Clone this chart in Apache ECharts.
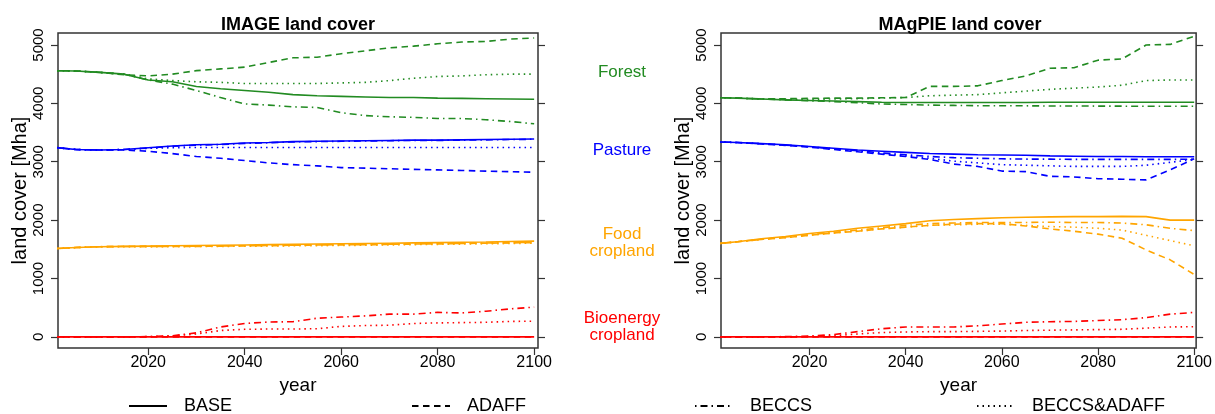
<!DOCTYPE html>
<html>
<head>
<meta charset="utf-8">
<script src="https://cdn.jsdelivr.net/npm/echarts@6/dist/echarts.min.js"></script>
<style>
  html, body { margin: 0; padding: 0; background: #fff; }
  #chart { width: 1215px; height: 414px; }
</style>
</head>
<body>
<div id="chart"></div>
<script>
// Model years (5-year steps)
const years = [2000, 2005, 2010, 2015, 2020, 2025, 2030, 2035, 2040, 2045, 2050,
               2055, 2060, 2065, 2070, 2075, 2080, 2085, 2090, 2095, 2100];

const xTicks = [2020, 2040, 2060, 2080, 2100];
const yTicks = [0, 1000, 2000, 3000, 4000, 5000];

const scenarios = ['BASE', 'ADAFF', 'BECCS', 'BECCS&ADAFF'];
const landTypes = ['Forest', 'Pasture', 'Food cropland', 'Bioenergy cropland'];
const panelTitles = ['IMAGE land cover', 'MAgPIE land cover'];

// ---- IMAGE (Mha) ----
const imgForestBase  = [4560,4555,4530,4500,4400,4370,4290,4250,4220,4190,4150,4130,4120,4110,4100,4100,4090,4085,4080,4075,4070];
const imgForestAdaff = [4560,4555,4530,4490,4470,4500,4560,4590,4620,4700,4780,4790,4850,4900,4950,4980,5020,5050,5060,5100,5120];
const imgForestBeccs = [4560,4555,4530,4500,4400,4330,4220,4100,3990,3970,3940,3930,3840,3790,3770,3760,3740,3740,3720,3690,3650];
const imgForestBa    = [4560,4555,4530,4500,4420,4390,4370,4360,4340,4340,4340,4340,4350,4360,4390,4430,4460,4470,4490,4500,4500];

const imgPastureBase  = [3250,3210,3200,3210,3240,3270,3290,3300,3320,3330,3345,3350,3355,3360,3365,3370,3370,3375,3380,3385,3390];
const imgPastureAdaff = [3250,3210,3200,3200,3180,3140,3090,3060,3020,2980,2950,2930,2900,2890,2880,2870,2860,2850,2840,2830,2820];
const imgPastureBeccs = [3250,3210,3200,3210,3235,3265,3285,3295,3315,3325,3340,3345,3350,3355,3360,3365,3365,3370,3375,3380,3385];
const imgPastureBa    = [3250,3210,3200,3210,3230,3240,3245,3245,3245,3245,3245,3245,3245,3245,3245,3245,3245,3245,3245,3245,3245];

const imgFoodBase  = [1510,1530,1545,1550,1555,1560,1565,1570,1575,1580,1585,1590,1595,1600,1605,1610,1615,1620,1625,1635,1640];
const imgFoodAdaff = [1510,1530,1545,1550,1550,1550,1550,1555,1560,1565,1570,1575,1580,1580,1585,1590,1595,1600,1605,1610,1615];
const imgFoodBeccs = [1510,1530,1545,1548,1550,1552,1555,1558,1562,1565,1570,1575,1578,1582,1587,1592,1597,1602,1608,1615,1620];
const imgFoodBa    = [1510,1530,1545,1545,1545,1545,1548,1550,1553,1556,1560,1563,1566,1570,1575,1580,1585,1590,1595,1600,1605];

const imgBioBase  = [0,0,0,0,0,0,0,0,0,0,0,0,0,0,0,0,0,0,0,0,0];
const imgBioAdaff = [0,0,0,0,0,0,0,0,0,0,0,0,0,0,0,0,0,0,0,0,0];
const imgBioBeccs = [0,0,0,0,5,20,70,170,230,255,260,320,340,360,390,390,420,410,440,480,510];
const imgBioBa    = [0,0,0,0,5,15,50,110,130,135,135,140,180,195,200,230,240,245,250,265,270];

// ---- MAgPIE (Mha) ----
const magForestBase  = [4100,4090,4075,4060,4050,4040,4030,4020,4015,4015,4015,4015,4015,4015,4018,4018,4020,4020,4020,4020,4020];
const magForestAdaff = [4100,4090,4075,4080,4085,4090,4090,4095,4100,4290,4290,4300,4390,4470,4600,4610,4740,4760,5000,5010,5150];
const magForestBeccs = [4100,4090,4075,4060,4045,4030,4010,3990,3980,3970,3965,3960,3960,3958,3955,3955,3953,3952,3950,3950,3950];
const magForestBa    = [4100,4090,4075,4070,4070,4075,4080,4090,4100,4130,4140,4150,4180,4210,4240,4260,4280,4310,4390,4400,4400];

const magPastureBase  = [3340,3330,3310,3290,3260,3230,3200,3180,3160,3140,3130,3120,3115,3110,3100,3095,3090,3090,3085,3085,3085];
const magPastureAdaff = [3340,3330,3305,3280,3250,3210,3170,3130,3090,3040,2960,2920,2840,2830,2750,2740,2710,2700,2690,2860,3050];
const magPastureBeccs = [3340,3330,3310,3285,3255,3220,3190,3150,3120,3090,3070,3060,3050,3045,3045,3040,3040,3040,3040,3040,3045];
const magPastureBa    = [3340,3330,3310,3285,3255,3220,3180,3140,3100,3060,3010,2980,2950,2940,2930,2920,2920,2920,2940,2990,3040];

const magFoodBase  = [1590,1630,1680,1720,1770,1810,1860,1900,1940,1990,2010,2025,2040,2050,2055,2060,2060,2065,2060,2000,2000];
const magFoodAdaff = [1590,1630,1670,1700,1740,1780,1810,1850,1880,1910,1930,1940,1940,1900,1850,1810,1760,1690,1490,1320,1070];
const magFoodBeccs = [1590,1630,1670,1710,1750,1790,1830,1870,1910,1940,1950,1960,1960,1960,1965,1960,1960,1950,1920,1860,1820];
const magFoodBa    = [1590,1630,1670,1700,1740,1780,1810,1850,1880,1910,1920,1930,1930,1910,1890,1880,1860,1830,1740,1650,1560];

const magBioBase  = [0,0,0,0,0,0,0,0,0,0,0,0,0,0,0,0,0,0,0,0,0];
const magBioAdaff = [0,0,0,0,0,0,0,0,0,0,0,0,0,0,0,0,0,0,0,0,0];
const magBioBeccs = [0,0,0,5,15,40,90,140,170,170,170,190,220,250,260,265,280,295,330,390,420];
const magBioBa    = [0,0,0,0,5,20,50,75,85,90,90,95,100,110,115,120,125,130,150,170,175];

// ---- styling ----
const FONT = '"Liberation Sans", Arial, Helvetica, sans-serif';
const landColors = {
  'Forest': '#228B22',
  'Pasture': '#0000FF',
  'Food cropland': '#FFA500',
  'Bioenergy cropland': '#FF0000'
};
const dashes = {
  'BASE': 'solid',
  'ADAFF': [6.5, 4.5],
  'BECCS': [1.5, 4, 7, 4],
  'BECCS&ADAFF': [1.5, 4]
};

const panels = [
  {
    'Forest':             [imgForestBase, imgForestAdaff, imgForestBeccs, imgForestBa],
    'Pasture':            [imgPastureBase, imgPastureAdaff, imgPastureBeccs, imgPastureBa],
    'Food cropland':      [imgFoodBase, imgFoodAdaff, imgFoodBeccs, imgFoodBa],
    'Bioenergy cropland': [imgBioBase, imgBioAdaff, imgBioBeccs, imgBioBa]
  },
  {
    'Forest':             [magForestBase, magForestAdaff, magForestBeccs, magForestBa],
    'Pasture':            [magPastureBase, magPastureAdaff, magPastureBeccs, magPastureBa],
    'Food cropland':      [magFoodBase, magFoodAdaff, magFoodBeccs, magFoodBa],
    'Bioenergy cropland': [magBioBase, magBioAdaff, magBioBeccs, magBioBa]
  }
];

const grids = [
  { left: 58,  top: 33, width: 480, height: 315 },
  { left: 721, top: 33, width: 478, height: 315 }
];
const xRanges = [[2001.3, 2100.8], [2001.6, 2100.4]];
const yRange = [-190, 5205];

const series = [];
panels.forEach((panel, gi) => {
  landTypes.forEach(lt => {
    // draw scenario lines first, reference (BASE) line on top
    [3, 2, 1, 0].forEach(si => {
      series.push({
        type: 'line',
        name: panelTitles[gi] + ' ' + lt + ' ' + scenarios[si],
        xAxisIndex: gi,
        yAxisIndex: gi * 2,
        data: years.map((y, i) => [y, panel[lt][si][i]]),
        symbol: 'none',
        silent: true,
        clip: true,
        lineStyle: { color: landColors[lt], width: 1.6, type: dashes[scenarios[si]] },
        itemStyle: { color: landColors[lt] }
      });
    });
  });
});

// legend entries (black line styles)
scenarios.forEach(sc => {
  series.push({
    type: 'line', name: sc, xAxisIndex: 0, yAxisIndex: 0, data: [],
    symbol: 'none', color: '#000',
    lineStyle: { color: '#000', width: 2, type: dashes[sc] },
    itemStyle: { color: '#000' }
  });
});

const plain = v => String(v);

const xAxes = grids.map((g, gi) => ({
  type: 'value', gridIndex: gi,
  min: xRanges[gi][0], max: xRanges[gi][1],
  axisLine: { show: false, onZero: false },
  axisTick: { show: true, length: 7, customValues: xTicks, lineStyle: { color: '#333', width: 1.2 } },
  axisLabel: { customValues: xTicks, formatter: plain, fontSize: 16, color: '#000', fontFamily: FONT, margin: 7 },
  splitLine: { show: false },
  name: 'year', nameLocation: 'middle', nameGap: 18,
  nameTextStyle: { fontSize: 19, color: '#000', fontFamily: FONT }
}));

const yAxes = [];
grids.forEach((g, gi) => {
  yAxes.push({
    type: 'value', gridIndex: gi, position: 'left',
    min: yRange[0], max: yRange[1],
    axisLine: { show: false, onZero: false },
    axisTick: { show: true, length: 7, customValues: yTicks, lineStyle: { color: '#333', width: 1.2 } },
    axisLabel: { customValues: yTicks, formatter: plain, rotate: 90, fontSize: 15, color: '#000', fontFamily: FONT, margin: 12 },
    splitLine: { show: false },
    name: 'land cover [Mha]', nameLocation: 'middle', nameGap: 27, nameRotate: 90,
    nameTextStyle: { fontSize: 20, color: '#000', fontFamily: FONT }
  });
  yAxes.push({
    type: 'value', gridIndex: gi, position: 'right',
    min: yRange[0], max: yRange[1],
    axisLine: { show: false, onZero: false },
    axisTick: { show: true, length: 7, customValues: yTicks, lineStyle: { color: '#333', width: 1.2 } },
    axisLabel: { show: false },
    splitLine: { show: false }
  });
});

const legendLeft = [123, 406, 689, 971];
const legends = scenarios.map((sc, i) => ({
  data: [sc],
  left: legendLeft[i], top: 392,
  itemWidth: 38, itemHeight: 14,
  selectedMode: false,
  itemStyle: { opacity: 0, borderWidth: 0 },
  textStyle: { fontSize: 18, color: '#000', fontFamily: FONT, padding: [0, 0, 0, 12] }
}));

const labelX = 622;
const sideLabels = [
  { text: 'Forest', y: 72, color: landColors['Forest'] },
  { text: 'Pasture', y: 150, color: landColors['Pasture'] },
  { text: 'Food\ncropland', y: 243, color: landColors['Food cropland'] },
  { text: 'Bioenergy\ncropland', y: 327, color: landColors['Bioenergy cropland'] }
];

const graphics = [];
panelTitles.forEach((t, gi) => {
  graphics.push({
    type: 'text',
    x: grids[gi].left + grids[gi].width / 2, y: 25,
    style: { text: t, textAlign: 'center', textVerticalAlign: 'middle',
             font: 'bold 18px ' + FONT, fill: '#000' }
  });
});
sideLabels.forEach(l => {
  graphics.push({
    type: 'text', x: labelX, y: l.y,
    style: { text: l.text, textAlign: 'center', textVerticalAlign: 'middle',
             font: '17px ' + FONT, fill: l.color, lineHeight: 17 }
  });
});

const chart = echarts.init(document.getElementById('chart'), null, { renderer: 'canvas' });
chart.setOption({
  animation: false,
  backgroundColor: '#fff',
  grid: grids.map(g => Object.assign({ show: true, borderColor: '#333', borderWidth: 1.5, backgroundColor: 'transparent' }, g)),
  xAxis: xAxes,
  yAxis: yAxes,
  legend: legends,
  series: series,
  graphic: graphics
});
</script>
</body>
</html>
